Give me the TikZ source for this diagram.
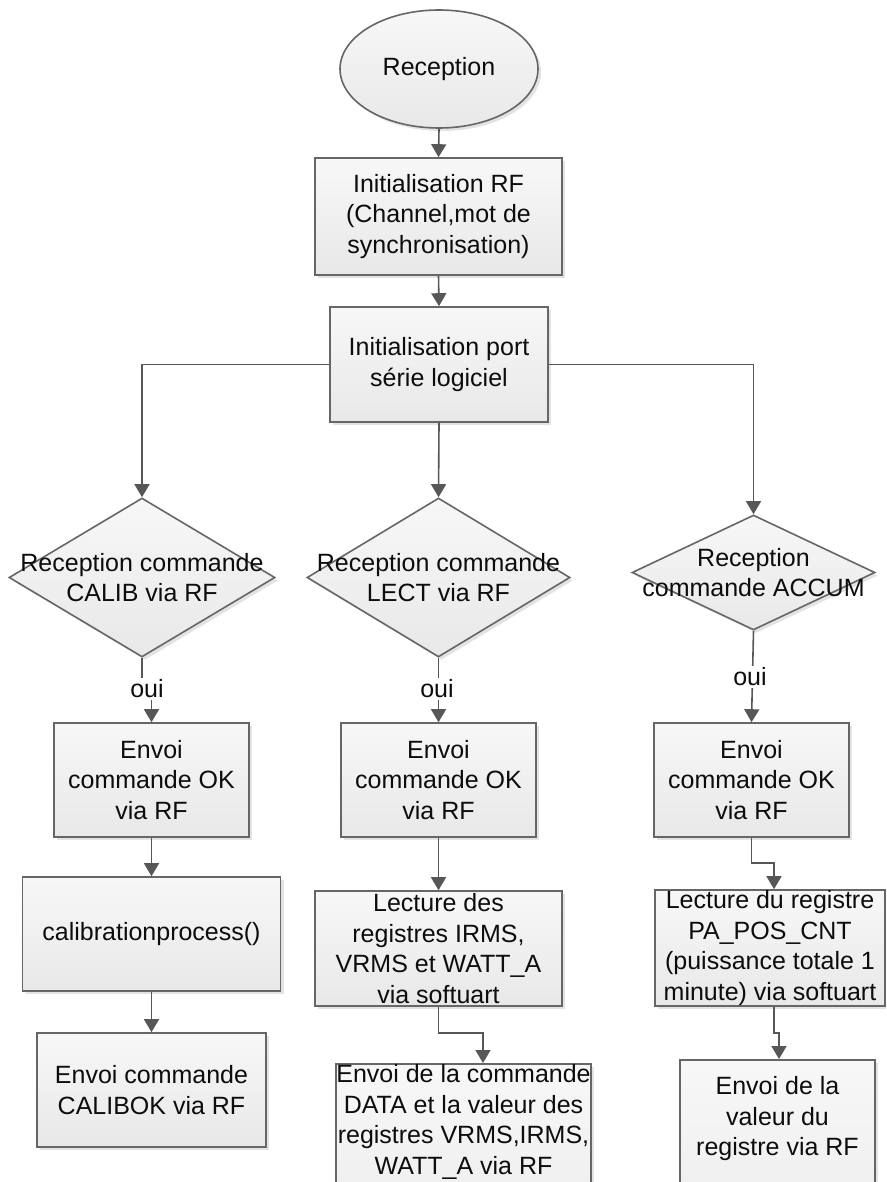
\documentclass[tikz,border=0pt]{standalone}
\usepackage{fontspec}
\setmainfont{Liberation Sans}
\usetikzlibrary{arrows.meta,shapes.geometric,shadows}
\tikzset{
  base/.style={draw=black!60, line width=1.6pt, top color=white!97!black, bottom color=black!9,
    drop shadow={opacity=0.22, shadow xshift=3pt, shadow yshift=-3pt},
    font=\fontsize{25}{30.5}\selectfont, text=black!95, align=center, inner sep=0pt},
  boite/.style={base, rectangle},
  losange/.style={base, diamond},
  fleche/.style={draw=black!66, line width=1.6pt, -{Triangle[length=13pt,width=15pt]}},
  oui/.style={fill=white, inner sep=2pt, font=\fontsize{25}{30.5}\selectfont, text=black!95}
}
\newcommand{\ligne}[1]{\makebox[0pt]{#1}}
\begin{document}
\begin{tikzpicture}[x=1pt,y=-1pt]
\clip (0,0) rectangle (886,1182);
\fill[white] (0,0) rectangle (886,1182);
% Debut
\node[base,ellipse,minimum width=198pt,minimum height=118pt] (rec) at (439,69) {Reception};
\node[boite,minimum width=247pt,minimum height=117pt] (ini) at (438.5,216.5) {Initialisation RF\\(Channel,mot de\\synchronisation)};
\node[boite,minimum width=218pt,minimum height=115pt] (port) at (439,364.5) {Initialisation port\\s\'erie logiciel};
% Tests
\node[losange,minimum width=266pt,minimum height=159pt] (d1) at (142,577.5) {\ligne{Reception commande}\\\ligne{CALIB via RF}};
\node[losange,minimum width=263pt,minimum height=159pt] (d2) at (438.5,577.5) {\ligne{Reception commande}\\\ligne{LECT via RF}};
\node[losange,minimum width=243pt,minimum height=115pt] (d3) at (753.5,572.5) {\ligne{Reception}\\\ligne{commande ACCUM}};
% Colonne CALIB
\node[boite,minimum width=195pt,minimum height=114pt] (e1) at (151.5,780) {Envoi\\commande OK\\via RF};
\node[boite,minimum width=258pt,minimum height=114pt] (cal) at (151.5,934) {calibrationprocess()};
\node[boite,minimum width=229pt,minimum height=114pt] (cok) at (151.5,1090) {Envoi commande\\CALIBOK via RF};
% Colonne LECT
\node[boite,minimum width=195pt,minimum height=114pt] (e2) at (438.5,780) {Envoi\\commande OK\\via RF};
\node[boite,minimum width=247pt,minimum height=115pt] (lr2) at (438.5,948.5) {Lecture des\\registres IRMS,\\VRMS et WATT\_A\\via softuart};
\node[boite,minimum width=255pt,anchor=north,inner ysep=1pt,text depth=140pt] (dt2) at (463.5,1063) {Envoi de la commande\\DATA et la valeur des\\registres VRMS,IRMS,\\WATT\_A via RF};
% Colonne ACCUM
\node[boite,minimum width=195pt,minimum height=114pt] (e3) at (751.5,780) {Envoi\\commande OK\\via RF};
\node[boite,minimum width=230pt,minimum height=116pt] (lr3) at (770,948) {Lecture du registre\\PA\_POS\_CNT\\(puissance totale 1\\minute) via softuart};
\node[boite,minimum width=195pt,anchor=north,inner ysep=17pt,text depth=140pt] (vl3) at (777.5,1059) {Envoi de la\\valeur du\\registre via RF};
% Liaisons
\coordinate (j1) at (147,689);
\coordinate (k2) at (483,1033);
\coordinate (k3) at (774,863);
\coordinate (k4) at (779,1033);
\draw[fleche] (rec.south) -- (ini.north);
\draw[fleche] (ini.south) -- (port.north);
\draw[fleche] (port.west) -| (d1.north);
\draw[fleche] (port.south) -- (d2.north);
\draw[fleche] (port.east) -| (d3.north);
\draw[fleche] (d1.south) |- (j1) -| (e1.north);
\draw[fleche] (d2.south) -- (e2.north);
\draw[fleche] (d3.south) -- (e3.north);
\draw[fleche] (e1.south) -- (cal.north);
\draw[fleche] (cal.south) -- (cok.north);
\draw[fleche] (e2.south) -- (lr2.north);
\draw[fleche] (lr2.south) |- (k2) -- (k2 |- dt2.north);
\draw[fleche] (e3.south) |- (k3) -- (k3 |- lr3.north);
\draw[fleche] (k3 |- lr3.south) |- (k4) -- (k4 |- vl3.north);
% Etiquettes
\node[oui] (o1) at (j1) {oui};
\node[oui] (o2) at (437,689) {oui};
\node[oui] (o3) at (750,677) {oui};
\end{tikzpicture}
\end{document}
